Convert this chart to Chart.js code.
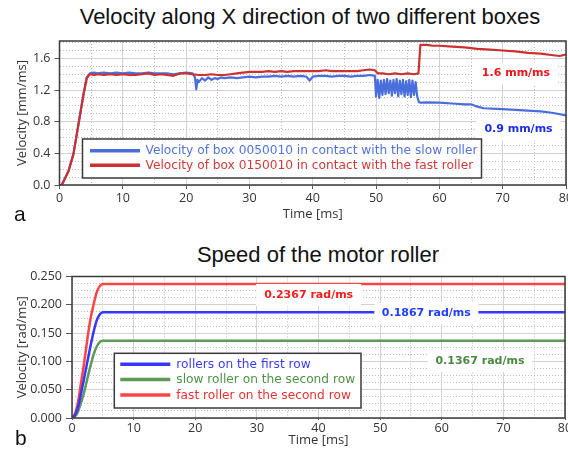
<!DOCTYPE html>
<html>
<head>
<meta charset="utf-8">
<script src="https://cdn.jsdelivr.net/npm/chart.js@4.4.1/dist/chart.umd.min.js"></script>
<style>
  html, body { margin: 0; padding: 0; background: #fff; }
  #page { position: relative; width: 568px; height: 454px; overflow: hidden; }
  .title { position: absolute; transform: translateX(-50%); white-space: nowrap;
    font-family: "Liberation Sans", Arial, sans-serif; font-size: 22px; line-height: 22px; color: #111; }
  .tag { position: absolute; font-family: "Liberation Sans", Arial, sans-serif; font-size: 21px; line-height: 22px; color: #111; }
  canvas { position: absolute; left: 0; }
</style>
</head>
<body>
<div id="page">
  <div class="title" style="left:310px; top:6px">Velocity along X direction of two different boxes</div>
  <canvas id="boxes" width="568" height="230" style="top:0"></canvas>
  <div class="tag" style="left:14px; top:203px">a</div>
  <div class="title" style="left:318px; top:244px">Speed of the motor roller</div>
  <canvas id="roller" width="568" height="224" style="top:230px"></canvas>
  <div class="tag" style="left:15px; top:427px">b</div>
</div>
<script>
// panel a: box velocities [mm/ms] vs time [ms]
const fastTime = [0, 0.35, 1.4, 2.2, 3, 3.8, 4.3, 4.8, 5.5, 6, 7, 8, 9, 10, 11, 12, 13, 14, 15, 16, 17, 18, 19, 20,
  21, 22, 23, 24, 25, 26, 27, 28, 29, 30, 31, 32, 33, 34, 35, 36, 37, 38, 39, 40, 41, 42, 43, 44, 45, 46, 47, 48, 49,
  49.8, 50.3, 51, 52, 53, 54, 55, 56, 56.7, 57, 58, 59, 60, 62, 64, 66, 68, 70, 72, 74, 76, 78, 79, 79.5, 80]
const fastVel = [0, 0, 0.17, 0.39, 0.77, 1.15, 1.35, 1.4, 1.39, 1.4, 1.39, 1.4, 1.39, 1.4, 1.39, 1.39, 1.4, 1.41, 1.39, 1.4, 1.39, 1.38, 1.41, 1.41,
  1.4, 1.39, 1.39, 1.4, 1.39, 1.39, 1.4, 1.41, 1.42, 1.43, 1.43, 1.43, 1.44, 1.43, 1.44, 1.43, 1.44, 1.44, 1.44, 1.44, 1.44, 1.45, 1.44, 1.44, 1.44, 1.44, 1.44, 1.45, 1.46,
  1.45, 1.41, 1.41, 1.4, 1.41, 1.4, 1.41, 1.4, 1.41, 1.77, 1.77, 1.76, 1.76, 1.75, 1.74, 1.72, 1.71, 1.7, 1.69, 1.67, 1.66, 1.64, 1.63, 1.64, 1.65]
const slowTime = [0, 0.35, 1.4, 2.2, 3, 3.8, 4.3, 4.8, 5.5, 6, 7, 8, 9, 10, 11, 12, 13, 14, 15, 16, 17, 18, 19, 20, 21,
  21.4, 21.6, 21.8, 22, 22.5, 23, 23.5, 24, 24.5, 25, 25.5, 26, 27, 28, 29, 30, 31, 32, 33, 34, 35, 36, 37, 38, 39, 39.5, 40,
  41, 42, 43, 44, 45, 46, 47, 48, 49, 49.8, 50, 50.25, 50.5, 50.75, 51, 51.25, 51.5, 51.75, 52, 52.25, 52.5, 52.75, 53,
  53.25, 53.5, 53.75, 54, 54.25, 54.5, 54.75, 55, 55.25, 55.5, 55.75, 56, 56.25, 56.5, 56.75, 57, 58, 60, 62, 64, 65, 66,
  67, 70, 72, 74, 76, 78, 80]
const slowVel = [0, 0, 0.17, 0.39, 0.77, 1.15, 1.36, 1.41, 1.42, 1.41, 1.42, 1.41, 1.42, 1.41, 1.42, 1.41, 1.41, 1.42, 1.41, 1.41, 1.41, 1.4, 1.41, 1.42, 1.41,
  1.36, 1.21, 1.33, 1.3, 1.35, 1.32, 1.36, 1.33, 1.35, 1.34, 1.36, 1.35, 1.36, 1.35, 1.36, 1.37, 1.36, 1.37, 1.37, 1.38, 1.37, 1.38, 1.37, 1.38, 1.37, 1.32, 1.37,
  1.38, 1.38, 1.37, 1.38, 1.38, 1.37, 1.38, 1.38, 1.39, 1.38, 1.12, 1.33, 1.1, 1.32, 1.14, 1.33, 1.15, 1.34, 1.16, 1.32, 1.13, 1.33, 1.16,
  1.34, 1.12, 1.32, 1.15, 1.33, 1.12, 1.31, 1.14, 1.33, 1.11, 1.32, 1.14, 1.3, 1.12, 1.05, 1.04, 1.045, 1.04, 1.03, 1.02, 1.02, 0.99,
  0.97, 0.96, 0.95, 0.94, 0.93, 0.91, 0.88]

// panel b: motor roller speed [rad/ms] vs time [ms]
const rollerTime = [0, 0.5, 1, 1.5, 2, 2.5, 3, 3.5, 4, 4.5, 5, 80]
const firstRow = [0, 0.005, 0.02, 0.045, 0.072, 0.1, 0.127, 0.152, 0.172, 0.183, 0.1867, 0.1867]
const slowRoller = [0, 0.003, 0.012, 0.028, 0.047, 0.07, 0.092, 0.112, 0.126, 0.134, 0.1367, 0.1367]
const fastRoller = [0, 0.008, 0.03, 0.065, 0.1, 0.14, 0.175, 0.2, 0.222, 0.233, 0.2367, 0.2367]

const timeMax = 80
const boxVelMax = 1.82
const rollerVelMax = 0.25

function toPoints(xs, ys) {
  return xs.map((x, i) => ({ x, y: ys[i] }))
}

const tickFont = { family: 'Open Sans', size: 12.5 }
const axisTitleFont = { family: 'Open Sans', size: 13 }
const majorGrid = '#d2d2d2'
const minorGrid = '#bdbdbd'

// frame, value notes and boxed legend, drawn over the lines
const overlays = {
  id: 'overlays',
  afterDatasetsDraw(chart, args, o) {
    const ctx = chart.ctx
    const { left, top, right, bottom } = chart.chartArea
    const xs = chart.scales.x
    const ys = chart.scales.y
    ctx.save()
    ctx.font = 'bold 11px "DejaVu Sans"'
    ctx.textAlign = 'center'
    ctx.textBaseline = 'middle'
    o.notes.forEach(n => {
      const cx = xs.getPixelForValue(n.x)
      const cy = ys.getPixelForValue(n.y)
      ctx.fillStyle = '#fff'
      ctx.fillRect(cx - n.w / 2, cy - 11, n.w, 22)
      ctx.fillStyle = n.color
      ctx.fillText(n.text, cx, cy)
    })
    const L = o.legend
    ctx.fillStyle = '#fff'
    ctx.fillRect(L.x, L.y, L.w, L.h)
    ctx.strokeStyle = '#3a3a3a'
    ctx.lineWidth = 1.5
    ctx.strokeRect(L.x, L.y, L.w, L.h)
    ctx.font = L.font
    ctx.textAlign = 'left'
    chart.data.datasets.forEach((ds, i) => {
      const y = L.y + L.rowTop + i * L.rowGap
      ctx.strokeStyle = ds.borderColor
      ctx.lineWidth = 3.5
      ctx.beginPath()
      ctx.moveTo(L.x + L.lineX0, y)
      ctx.lineTo(L.x + L.lineX1, y)
      ctx.stroke()
      ctx.fillStyle = ds.textColor
      ctx.fillText(ds.label, L.x + L.textX, y + 0.5)
    })
    ctx.strokeStyle = '#3a3a3a'
    ctx.lineWidth = 1.5
    ctx.strokeRect(left, top, right - left, bottom - top)
    ctx.restore()
  }
}

function makeChart(id, cfg) {
  return new Chart(document.getElementById(id), {
    type: 'line',
    data: { datasets: cfg.datasets },
    plugins: [overlays],
    options: {
      responsive: false,
      animation: false,
      events: [],
      layout: { padding: cfg.padding },
      elements: { point: { radius: 0 }, line: { borderJoinStyle: 'round' } },
      plugins: {
        legend: { display: false },
        tooltip: { enabled: false },
        overlays: { notes: cfg.notes, legend: cfg.legend }
      },
      scales: {
        x: {
          type: 'linear', min: 0, max: timeMax,
          afterFit: s => { s.height = cfg.xHeight; s.paddingLeft = 0; s.paddingRight = 0 },
          border: { display: false, dash: c => (c.tick && c.tick.value % 10 !== 0 ? [1, 2] : []) },
          grid: {
            color: c => (c.tick && c.tick.value % 10 === 0 ? majorGrid : minorGrid),
            tickColor: c => (c.tick && c.tick.value % 10 === 0 ? '#555' : 'rgba(0,0,0,0)'),
            tickLength: cfg.xTick[0]
          },
          ticks: {
            stepSize: 5, autoSkip: false, maxRotation: 0, padding: cfg.xTick[1],
            font: tickFont, color: '#333',
            callback: v => (v % 10 === 0 ? String(v) : '')
          },
          title: { display: true, text: 'Time [ms]', font: axisTitleFont, color: '#333', padding: { top: 0, bottom: cfg.xTitlePad } }
        },
        y: {
          type: 'linear', min: 0, max: cfg.yMax,
          afterFit: s => { s.width = cfg.yWidth },
          border: { display: false, dash: c => (c.tick && !cfg.isMajor(c.tick.value) ? [1, 2] : []) },
          grid: {
            color: c => (c.tick && cfg.isMajor(c.tick.value) ? majorGrid : minorGrid),
            tickColor: c => (c.tick && cfg.isMajor(c.tick.value) ? '#555' : 'rgba(0,0,0,0)'),
            tickLength: cfg.yTick[0]
          },
          ticks: {
            stepSize: cfg.yStep, autoSkip: false, includeBounds: false, padding: cfg.yTick[1],
            font: tickFont, color: '#333',
            callback: v => (cfg.isMajor(v) ? v.toFixed(cfg.digits) : '')
          },
          title: { display: true, text: cfg.yTitle, font: axisTitleFont, color: '#333', padding: { top: 14, bottom: 0 } }
        }
      }
    }
  })
}

makeChart('boxes', {
  datasets: [
    { label: 'Velocity of box 0050010 in contact with the slow roller', data: toPoints(slowTime, slowVel),
      borderColor: '#4a6fdc', textColor: '#5074d8', borderWidth: 2.2, order: 1 },
    { label: 'Velocity of box 0150010 in contact with the fast roller', data: toPoints(fastTime, fastVel),
      borderColor: '#cc3030', textColor: '#d03a3a', borderWidth: 2.2, order: 0 }
  ],
  padding: { top: 41, right: 2, left: 0, bottom: 0 },
  xHeight: 45, xTick: [4, 2], xTitlePad: 7.5,
  yWidth: 59.5, yTick: [5, 4], yMax: boxVelMax, yStep: 0.1, digits: 1,
  isMajor: v => Math.round(v * 10) % 4 === 0,
  yTitle: 'Velocity [mm/ms]',
  notes: [
    { text: '1.6 mm/ms', x: 72.1, y: 1.41, w: 84, color: '#e8161b' },
    { text: '0.9 mm/ms', x: 72.5, y: 0.70, w: 84, color: '#1c2fe0' }
  ],
  legend: { x: 82.5, y: 139, w: 399, h: 39, rowTop: 11.7, rowGap: 14.6, lineX0: 7.5, lineX1: 57.5, textX: 63,
    font: '12.2px "DejaVu Sans"' }
})

makeChart('roller', {
  datasets: [
    { label: 'rollers on the first row', data: toPoints(rollerTime, firstRow),
      borderColor: '#3636ff', textColor: '#3a3aff', borderWidth: 2.5, cubicInterpolationMode: 'monotone' },
    { label: 'slow roller on the second row', data: toPoints(rollerTime, slowRoller),
      borderColor: '#5c9a55', textColor: '#4f9147', borderWidth: 2.5, cubicInterpolationMode: 'monotone' },
    { label: 'fast roller on the second row', data: toPoints(rollerTime, fastRoller),
      borderColor: '#ff4444', textColor: '#f03030', borderWidth: 2.5, cubicInterpolationMode: 'monotone' }
  ],
  padding: { top: 46.5, right: 3, left: 0, bottom: 0 },
  xHeight: 36, xTick: [2, 1], xTitlePad: 5.5,
  yWidth: 72, yTick: [6, 4], yMax: rollerVelMax, yStep: 0.0125, digits: 3,
  isMajor: v => Math.round(v / 0.0125) % 4 === 0,
  yTitle: 'Velocity [rad/ms]',
  notes: [
    { text: '0.2367 rad/ms', x: 38.4, y: 0.2173, w: 105, color: '#f02020' },
    { text: '0.1867 rad/ms', x: 57.5, y: 0.1849, w: 104, color: '#2040ff' },
    { text: '0.1367 rad/ms', x: 66.2, y: 0.1007, w: 104, color: '#4a8a40' }
  ],
  legend: { x: 114.3, y: 123.3, w: 246.7, h: 54.7, rowTop: 11, rowGap: 15.3, lineX0: 6, lineX1: 56, textX: 62,
    font: '12.2px "DejaVu Sans"' }
})
</script>
</body>
</html>
